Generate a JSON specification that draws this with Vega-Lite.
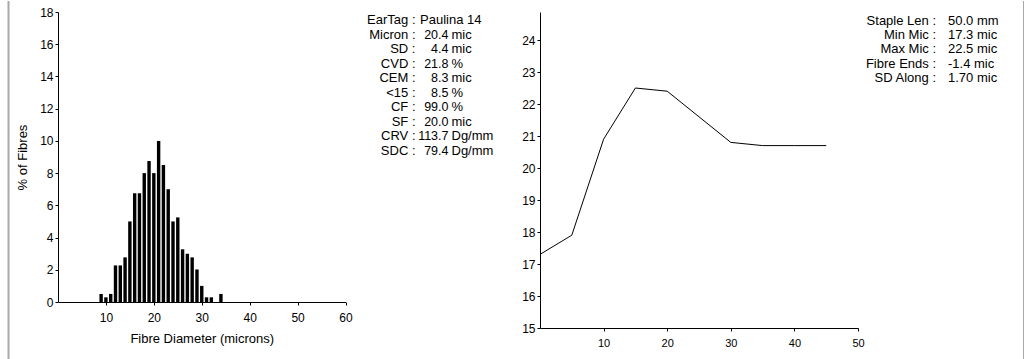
{
  "$schema": "https://vega.github.io/schema/vega-lite/v6.json",
  "padding": {"left": 7, "top": 0, "right": 0, "bottom": 0},
  "background": "white",
  "config": {
    "view": {"stroke": null},
    "font": "Liberation Sans",
    "axis": {"domainColor": "black", "tickColor": "black", "labelColor": "black", "titleColor": "black", "grid": false, "tickSize": 3, "domainWidth": 1, "tickWidth": 1, "labelFont": "Liberation Sans", "titleFont": "Liberation Sans", "titleFontWeight": "normal", "labelFontSize": 12, "titleFontSize": 13, "labelOverlap": false, "labelFlush": false}
  },
  "datasets": {
    "hist": [
      {"diameter": 9, "pct": 0.5}, {"diameter": 10, "pct": 0.29}, {"diameter": 11, "pct": 0.5},
      {"diameter": 12, "pct": 2.27}, {"diameter": 13, "pct": 2.27}, {"diameter": 14, "pct": 2.77},
      {"diameter": 15, "pct": 5.0}, {"diameter": 16, "pct": 6.75}, {"diameter": 17, "pct": 6.75},
      {"diameter": 18, "pct": 8.0}, {"diameter": 19, "pct": 8.75}, {"diameter": 20, "pct": 8.0},
      {"diameter": 21, "pct": 10.0}, {"diameter": 22, "pct": 8.5}, {"diameter": 23, "pct": 7.0},
      {"diameter": 24, "pct": 5.0}, {"diameter": 25, "pct": 5.25}, {"diameter": 26, "pct": 3.27},
      {"diameter": 27, "pct": 3.0}, {"diameter": 28, "pct": 2.77}, {"diameter": 29, "pct": 2.02},
      {"diameter": 30, "pct": 1.0}, {"diameter": 31, "pct": 0.29}, {"diameter": 32, "pct": 0.29},
      {"diameter": 34, "pct": 0.5}
    ],
    "profile": [
      {"position": 0, "micron": 17.3}, {"position": 5, "micron": 17.9}, {"position": 10, "micron": 20.9},
      {"position": 15, "micron": 22.5}, {"position": 20, "micron": 22.4}, {"position": 30, "micron": 20.8},
      {"position": 35, "micron": 20.7}, {"position": 40, "micron": 20.7}, {"position": 45, "micron": 20.7}
    ],
    "stats1": [
      {"row": 0, "label": "EarTag :", "value": "Paulina 14"},
      {"row": 1, "label": "Micron :", "num": "20.4", "unit": "mic"},
      {"row": 2, "label": "SD :", "num": "4.4", "unit": "mic"},
      {"row": 3, "label": "CVD :", "num": "21.8", "unit": "%"},
      {"row": 4, "label": "CEM :", "num": "8.3", "unit": "mic"},
      {"row": 5, "label": "<15 :", "num": "8.5", "unit": "%"},
      {"row": 6, "label": "CF :", "num": "99.0", "unit": "%"},
      {"row": 7, "label": "SF :", "num": "20.0", "unit": "mic"},
      {"row": 8, "label": "CRV :", "num": "113.7", "unit": "Dg/mm"},
      {"row": 9, "label": "SDC :", "num": "79.4", "unit": "Dg/mm"}
    ],
    "stats2": [
      {"row": 0, "label": "Staple Len :", "value": "50.0 mm"},
      {"row": 1, "label": "Min Mic :", "value": "17.3 mic"},
      {"row": 2, "label": "Max Mic :", "value": "22.5 mic"},
      {"row": 3, "label": "Fibre Ends :", "value": "-1.4 mic"},
      {"row": 4, "label": "SD Along :", "value": "1.70 mic"}
    ]
  },
  "hconcat": [
    {
      "width": 287.5,
      "height": 290,
      "layer": [
        {
          "data": {"name": "hist"},
          "mark": {"type": "bar", "size": 3.4, "color": "black"},
          "encoding": {
            "x": {"field": "diameter", "type": "quantitative", "scale": {"domain": [0, 60], "nice": false, "zero": false, "padding": 0},
                  "axis": {"values": [10, 20, 30, 40, 50, 60], "tickCount": 6, "title": "Fibre Diameter (microns)", "labelPadding": 7, "titlePadding": 9}},
            "y": {"field": "pct", "type": "quantitative", "scale": {"domain": [0, 18], "nice": false},
                  "axis": {"values": [0, 2, 4, 6, 8, 10, 12, 14, 16, 18], "tickCount": 10, "title": "% of Fibres", "labelPadding": 2, "titlePadding": 10}}
          }
        },
        {
          "data": {"values": [{}]},
          "mark": {"type": "rule", "color": "#a8a8a8", "strokeWidth": 2, "clip": false},
          "encoding": {
            "x": {"datum": -10.33, "type": "quantitative"},
            "y": {"datum": 18.68, "type": "quantitative"},
            "y2": {"datum": -3.6}
          }
        }
      ]
    },
    {
      "width": 174,
      "height": 290,
      "data": {"name": "stats1"},
      "encoding": {
        "y": {"field": "row", "type": "quantitative", "scale": {"domain": [-0.55, 19.37], "nice": false, "zero": false, "reverse": true}, "axis": null}
      },
      "layer": [
        {
          "mark": {"type": "text", "align": "right", "baseline": "middle", "fontSize": 13, "color": "black", "font": "Liberation Sans"},
          "encoding": {
            "x": {"datum": 59.5, "type": "quantitative", "scale": {"domain": [0, 174], "nice": false, "zero": false}, "axis": null},
            "text": {"field": "label"}
          }
        },
        {
          "transform": [{"filter": "datum.row > 0"}],
          "mark": {"type": "text", "align": "right", "baseline": "middle", "fontSize": 12.5, "color": "black", "font": "Liberation Sans"},
          "encoding": {
            "x": {"datum": 92.5, "type": "quantitative"},
            "text": {"field": "num"}
          }
        },
        {
          "transform": [{"filter": "datum.row > 0"}],
          "mark": {"type": "text", "align": "left", "baseline": "middle", "fontSize": 13, "color": "black", "font": "Liberation Sans"},
          "encoding": {
            "x": {"datum": 95.5, "type": "quantitative"},
            "text": {"field": "unit"}
          }
        },
        {
          "transform": [{"filter": "datum.row == 0"}],
          "mark": {"type": "text", "align": "left", "baseline": "middle", "fontSize": 13, "color": "black", "font": "Liberation Sans"},
          "encoding": {
            "x": {"datum": 64, "type": "quantitative"},
            "text": {"field": "value"}
          }
        }
      ]
    },
    {
      "width": 318,
      "height": 316,
      "data": {"name": "profile"},
      "mark": {"type": "line", "color": "black", "strokeWidth": 1},
      "encoding": {
        "x": {"field": "position", "type": "quantitative", "scale": {"domain": [0, 50], "nice": false},
              "axis": {"values": [10, 20, 30, 40, 50], "tickCount": 5, "title": null, "labelFontSize": 11, "labelPadding": 6}},
        "y": {"field": "micron", "type": "quantitative", "scale": {"domain": [15, 24.875], "nice": false, "zero": false},
              "axis": {"values": [15, 16, 17, 18, 19, 20, 21, 22, 23, 24], "tickCount": 10, "title": null, "labelPadding": 2}}
      }
    },
    {
      "width": 143,
      "height": 290,
      "layer": [
        {
          "data": {"name": "stats2"},
          "mark": {"type": "text", "align": "right", "baseline": "middle", "fontSize": 13, "color": "black", "font": "Liberation Sans"},
          "encoding": {
            "x": {"datum": 68, "type": "quantitative", "scale": {"domain": [0, 143], "nice": false, "zero": false}, "axis": null},
            "y": {"field": "row", "type": "quantitative", "scale": {"domain": [-0.635, 19.83], "nice": false, "zero": false, "reverse": true}, "axis": null},
            "text": {"field": "label"}
          }
        },
        {
          "data": {"name": "stats2"},
          "mark": {"type": "text", "align": "left", "baseline": "middle", "fontSize": 13, "color": "black", "font": "Liberation Sans"},
          "encoding": {
            "x": {"datum": 80, "type": "quantitative"},
            "y": {"field": "row", "type": "quantitative"},
            "text": {"field": "value"}
          }
        },
        {
          "data": {"values": [{}]},
          "mark": {"type": "rule", "color": "#a8a8a8", "strokeWidth": 2, "clip": false},
          "encoding": {
            "x": {"datum": 156, "type": "quantitative"},
            "y": {"datum": -1.41, "type": "quantitative"},
            "y2": {"datum": 23.92}
          }
        }
      ]
    }
  ],
  "spacing": 10,
  "bounds": "flush"
}
